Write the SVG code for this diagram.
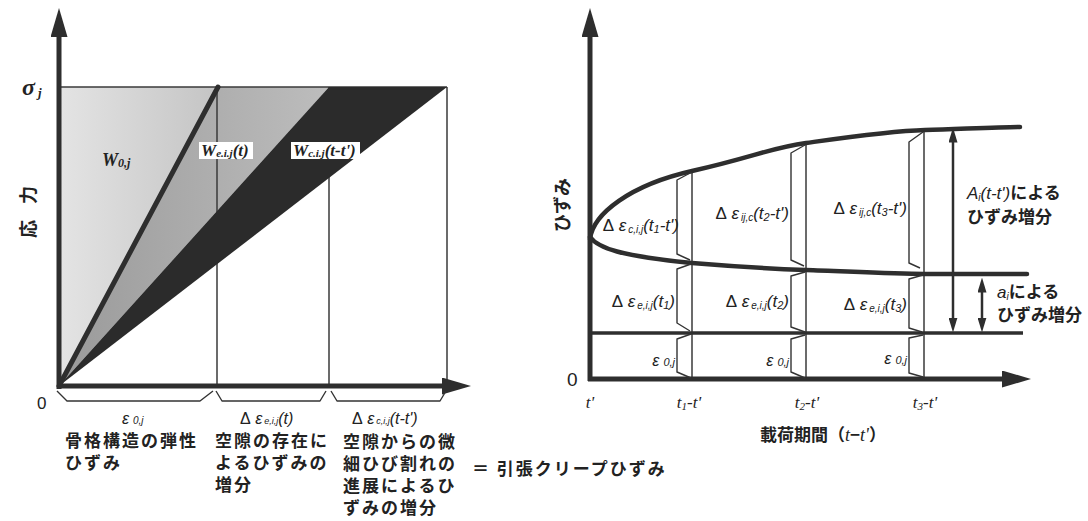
<svg xmlns="http://www.w3.org/2000/svg" width="1088" height="521" viewBox="0 0 1088 521">
<defs>
<style>
.ax{stroke:#2e2e2e;stroke-width:5;fill:none}
.thin{stroke:#3a3a3a;stroke-width:1.5;fill:none}
.crv{stroke:#2e2e2e;stroke-width:4.5;fill:none;stroke-linecap:round}
.hl{stroke:#2e2e2e;stroke-width:3.5;fill:none}
.br{stroke:#333;stroke-width:1.4;fill:none;stroke-linejoin:round}
.dbl{stroke:#2e2e2e;stroke-width:2.5;fill:none}
.jp{font-family:"Noto Sans CJK JP",sans-serif;font-weight:bold;fill:#222}
.lb{font-family:"Liberation Sans",sans-serif;font-style:italic;fill:#222}
.sr{font-family:"Liberation Serif",serif;font-style:italic;font-weight:bold;fill:#222}
.tk{font-family:"Liberation Serif",serif;font-style:italic;font-weight:normal;fill:#222}
.num{font-family:"Liberation Sans",sans-serif;fill:#222}
</style>
<marker id="axh" viewBox="0 0 29 17" refX="1" refY="8.5" markerWidth="29" markerHeight="17" markerUnits="userSpaceOnUse" orient="auto">
<path d="M0,0 L29,8.5 L0,17 z" fill="#2e2e2e"/>
</marker>
<marker id="dh" viewBox="0 0 15 9" refX="0.5" refY="4.5" markerWidth="15" markerHeight="9" markerUnits="userSpaceOnUse" orient="auto-start-reverse">
<path d="M0,0 L15,4.5 L0,9 z" fill="#2e2e2e"/>
</marker>
<linearGradient id="gLight" x1="0" y1="0" x2="1" y2="0">
<stop offset="0" stop-color="#e4e4e4"/>
<stop offset="1" stop-color="#c4c4c4"/>
</linearGradient>
<linearGradient id="gMid" x1="0" y1="0" x2="1" y2="0">
<stop offset="0" stop-color="#9a9a9a"/>
<stop offset="1" stop-color="#bdbdbd"/>
</linearGradient>
</defs>
<rect width="1088" height="521" fill="#ffffff"/>

<!-- LEFT CHART -->
<g id="left-chart">
<g id="regions">
<polygon points="59,386 59,87 218,87" fill="url(#gLight)"/>
<polygon points="59,386 218,87 329,87" fill="url(#gMid)"/>
<line class="thin" x1="59" y1="87" x2="447" y2="87"/>
<line class="thin" x1="217" y1="87" x2="217" y2="386"/>
<line class="thin" x1="329" y1="87" x2="329" y2="386"/>
<line class="thin" x1="447" y1="87" x2="447" y2="386"/>
<polygon points="59,386 329,87 447,87" fill="#2b2b2b"/>
<line x1="59" y1="386" x2="218" y2="87" stroke="#2e2e2e" stroke-width="5" stroke-linecap="round"/>
</g>
<g id="left-axes">
<line class="ax" x1="59" y1="389" x2="59" y2="36" marker-end="url(#axh)"/>
<line class="ax" x1="57" y1="386" x2="443" y2="386" marker-end="url(#axh)"/>
</g>
<g id="left-braces">
<path class="br" d="M57,391 L67,401 L200,401 L213,391"/>
<path class="br" d="M216,391 L222,401 L320,401 L326,391"/>
<path class="br" d="M331,391 L337,401 L440,401 L446,391"/>
</g>
<g id="left-labels">
<text class="sr" x="22" y="95" font-size="24">σ<tspan font-size="13" dx="3" dy="2">j</tspan></text>
<text class="jp" x="27" y="209" font-size="18" text-anchor="middle" dominant-baseline="central" letter-spacing="6" transform="rotate(-90 27 209)">応 力</text>
<text class="num" x="37" y="409" font-size="17">0</text>
<text class="sr" x="102" y="166" font-size="18">W<tspan font-size="12" dy="1">0,j</tspan></text>
<rect x="199" y="142" width="54" height="17" fill="#ffffff"/>
<text class="sr" x="201" y="156" font-size="17">W<tspan font-size="11" dy="1">e.i.j</tspan><tspan dy="-1">(t)</tspan></text>
<rect x="291" y="142" width="69" height="17" fill="#ffffff"/>
<text class="sr" x="293" y="156" font-size="17">W<tspan font-size="11" dy="1">c.i.j</tspan><tspan dy="-1">(t-t')</tspan></text>
<text class="lb" x="122" y="424" font-size="16">ε<tspan font-size="10" dx="4">0,j</tspan></text>
<text class="lb" x="240" y="424" font-size="16"><tspan font-style="normal">Δ</tspan> ε<tspan font-size="9" dx="2">e,i,j</tspan>(t)</text>
<text class="lb" x="352" y="424" font-size="16"><tspan font-style="normal">Δ</tspan> ε<tspan font-size="9" dx="2">c,i,j</tspan>(t-t')</text>
</g>
<g id="left-captions" class="jp" font-size="17" letter-spacing="2">
<text x="65" y="447">骨格構造の弾性</text>
<text x="65" y="469">ひずみ</text>
<text x="215" y="447">空隙の存在に</text>
<text x="215" y="469">よるひずみの</text>
<text x="215" y="491">増分</text>
<text x="343" y="448">空隙からの微</text>
<text x="343" y="470">細ひび割れの</text>
<text x="343" y="492">進展によるひ</text>
<text x="343" y="514">ずみの増分</text>
<text x="472" y="475">＝ 引張クリープひずみ</text>
</g>
</g>

<!-- RIGHT CHART -->
<g id="right-chart">
<g id="right-grid">
<line class="thin" x1="692" y1="171" x2="692" y2="379"/>
<line class="thin" x1="806" y1="143" x2="806" y2="379"/>
<line class="thin" x1="924" y1="130" x2="924" y2="379"/>
<line class="hl" x1="590" y1="333" x2="1023" y2="333"/>
<path class="crv" d="M590,239 C593,214 630,185 692,171 S 770,148 806,143 S 890,131 925,130 S 1000,127 1020,127"/>
<path class="crv" d="M590,237 C598,248 620,256 692,263 C740,267 780,269 806,270 C840,271 890,274 925,274 L1027,274"/>
</g>
<g id="right-axes">
<line class="ax" x1="590" y1="381" x2="590" y2="36" marker-end="url(#axh)"/>
<line class="ax" x1="588" y1="379" x2="1003" y2="379" marker-end="url(#axh)"/>
</g>
<g id="right-brackets">
<path class="br" d="M692,172 L677,180 L677,254 L690,260"/>
<path class="br" d="M691,264 L677,269 L677,323 L690,331"/>
<path class="br" d="M691,334 L677,339 L677,372 L691,378"/>
<path class="br" d="M805,145 L791,153 L791,260 L804,266"/>
<path class="br" d="M805,272 L791,276 L791,327 L805,332"/>
<path class="br" d="M805,335 L791,339 L791,372 L805,378"/>
<path class="br" d="M923,132 L909,142 L909,263 L920,268"/>
<path class="br" d="M923,275 L909,279 L909,328 L922,332"/>
<path class="br" d="M923,335 L909,338 L909,373 L923,377"/>
</g>
<g id="connectors">
<line class="dbl" x1="953" y1="142" x2="953" y2="318" marker-start="url(#dh)" marker-end="url(#dh)"/>
<line class="dbl" x1="982" y1="292" x2="982" y2="318" marker-start="url(#dh)" marker-end="url(#dh)"/>
</g>
<g id="right-labels">
<text class="jp" x="561" y="205" font-size="18" text-anchor="middle" dominant-baseline="central" transform="rotate(-90 561 205)">ひずみ</text>
<text class="num" x="567" y="386" font-size="19">0</text>
<text class="lb" x="679" y="231" font-size="17" text-anchor="end"><tspan font-style="normal">Δ</tspan> ε<tspan font-size="10" dx="2" dy="2">c,i,j</tspan><tspan dy="-2">(t</tspan><tspan font-size="11" dy="2">1</tspan><tspan dy="-2">-t')</tspan></text>
<text class="lb" x="789" y="219" font-size="17" text-anchor="end"><tspan font-style="normal">Δ</tspan> ε<tspan font-size="10" dx="2" dy="2">ij,c</tspan><tspan dy="-2">(t</tspan><tspan font-size="11" dy="2">2</tspan><tspan dy="-2">-t')</tspan></text>
<text class="lb" x="907" y="214" font-size="17" text-anchor="end"><tspan font-style="normal">Δ</tspan> ε<tspan font-size="10" dx="2" dy="2">ij,c</tspan><tspan dy="-2">(t</tspan><tspan font-size="11" dy="2">3</tspan><tspan dy="-2">-t')</tspan></text>
<text class="lb" x="675" y="307" font-size="17" text-anchor="end"><tspan font-style="normal">Δ</tspan> ε<tspan font-size="10" dx="2" dy="2">e,i,j</tspan><tspan dy="-2">(t</tspan><tspan font-size="11" dy="2">1</tspan><tspan dy="-2">)</tspan></text>
<text class="lb" x="789" y="307" font-size="17" text-anchor="end"><tspan font-style="normal">Δ</tspan> ε<tspan font-size="10" dx="2" dy="2">e,i,j</tspan><tspan dy="-2">(t</tspan><tspan font-size="11" dy="2">2</tspan><tspan dy="-2">)</tspan></text>
<text class="lb" x="907" y="310" font-size="17" text-anchor="end"><tspan font-style="normal">Δ</tspan> ε<tspan font-size="10" dx="2" dy="2">e,i,j</tspan><tspan dy="-2">(t</tspan><tspan font-size="11" dy="2">3</tspan><tspan dy="-2">)</tspan></text>
<text class="lb" x="675" y="366" font-size="16" text-anchor="end">ε<tspan font-size="11" dx="4">0,j</tspan></text>
<text class="lb" x="789" y="366" font-size="16" text-anchor="end">ε<tspan font-size="11" dx="4">0,j</tspan></text>
<text class="lb" x="907" y="364" font-size="16" text-anchor="end">ε<tspan font-size="11" dx="4">0,j</tspan></text>
<text class="tk" x="590" y="408" font-size="17" text-anchor="middle">t'</text>
<text class="tk" x="689" y="408" font-size="17" text-anchor="middle">t<tspan font-size="11" dy="2">1</tspan><tspan dy="-2">-t'</tspan></text>
<text class="tk" x="807" y="408" font-size="17" text-anchor="middle">t<tspan font-size="11" dy="2">2</tspan><tspan dy="-2">-t'</tspan></text>
<text class="tk" x="925" y="408" font-size="17" text-anchor="middle">t<tspan font-size="11" dy="2">3</tspan><tspan dy="-2">-t'</tspan></text>
<text class="jp" x="760" y="441" font-size="17">載荷期間（<tspan font-family="Liberation Serif" font-style="italic" font-weight="normal" font-size="18">t</tspan>−<tspan font-family="Liberation Serif" font-style="italic" font-weight="normal" font-size="18">t'</tspan>）</text>
<text class="jp" x="967" y="199" font-size="17"><tspan font-family="Liberation Sans" font-style="italic" font-weight="normal">A<tspan font-size="10" dy="2">i</tspan><tspan dy="-2">(t-t')</tspan></tspan>による</text>
<text class="jp" x="967" y="223" font-size="17">ひずみ増分</text>
<text class="jp" x="997" y="298" font-size="17"><tspan font-family="Liberation Sans" font-style="italic" font-weight="normal">a<tspan font-size="10" dy="2">i</tspan></tspan><tspan dy="-2">による</tspan></text>
<text class="jp" x="997" y="321" font-size="17">ひずみ増分</text>
</g>
</g>
</svg>
